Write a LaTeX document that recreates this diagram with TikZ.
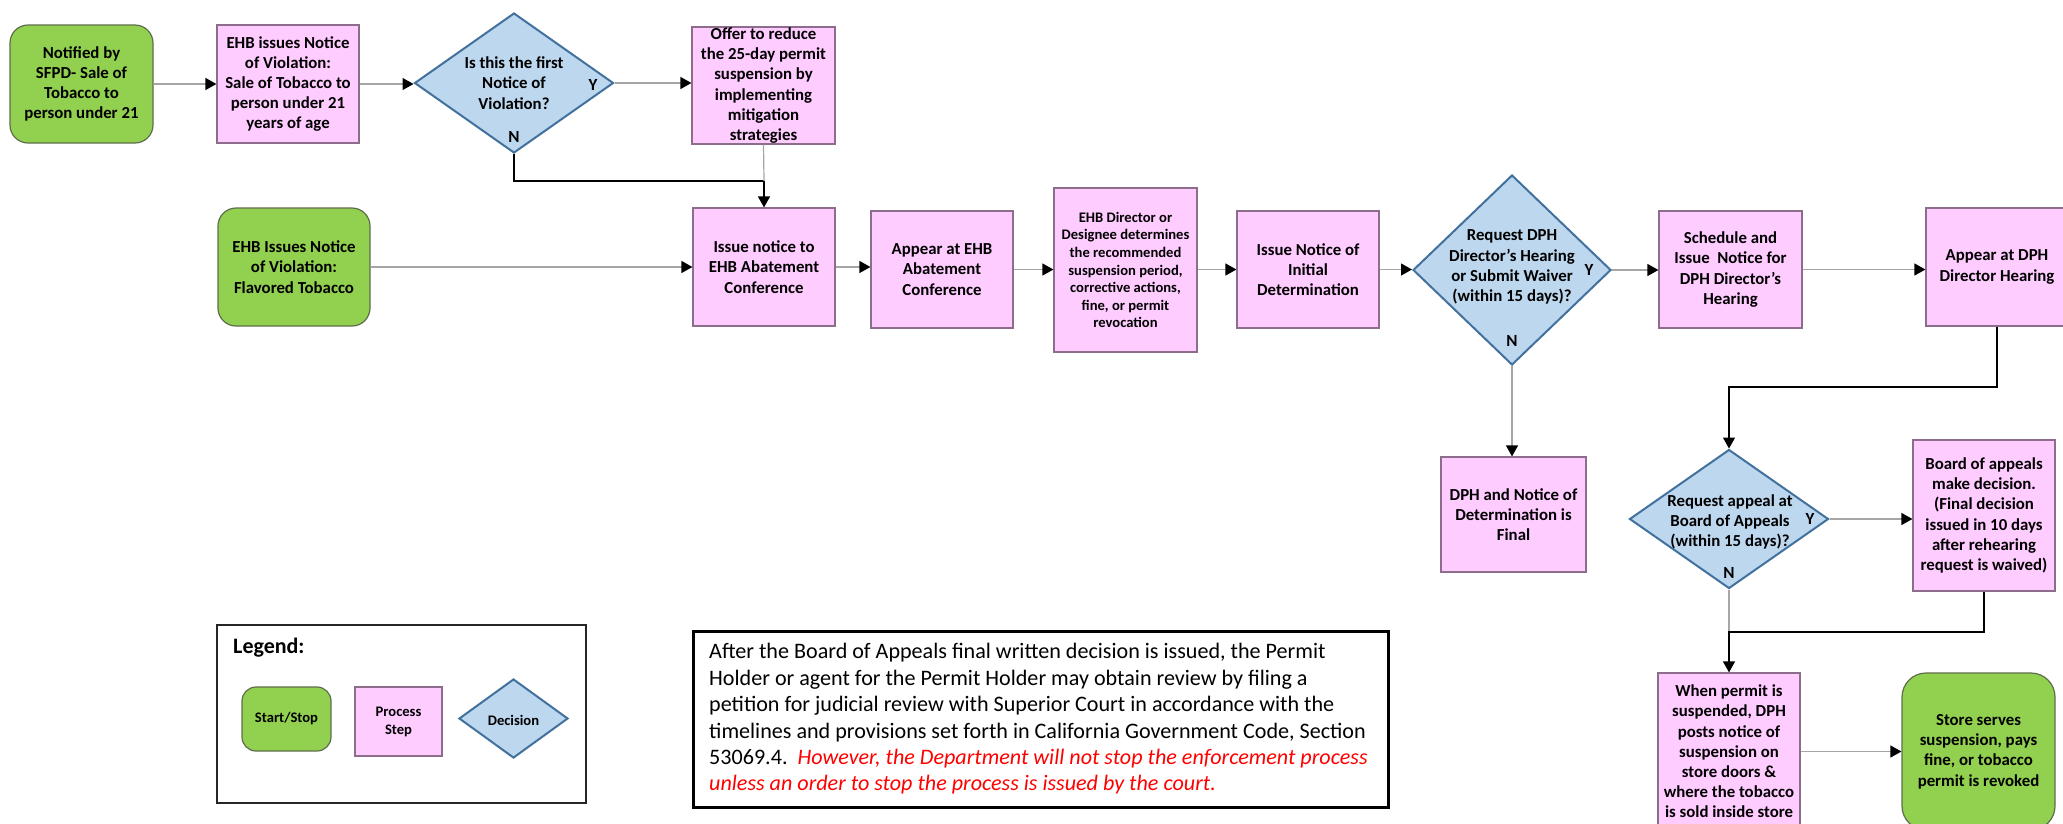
\documentclass[tikz,border=0pt]{standalone}
\usepackage{fontspec}
\setmainfont{Carlito}
\usetikzlibrary{arrows.meta,shapes.geometric}
\definecolor{startgreen}{HTML}{92D050}
\definecolor{greenborder}{HTML}{5E6E4A}
\definecolor{procpink}{HTML}{FFCCFF}
\definecolor{pinkborder}{HTML}{8C6E8C}
\definecolor{decblue}{HTML}{BDD7EE}
\definecolor{decborder}{HTML}{41719C}
\definecolor{linegray}{HTML}{A6A6A6}
\newcommand{\boxfont}{\bfseries\fontsize{16.8}{20.2}\selectfont}
\newcommand{\smallboxfont}{\bfseries\fontsize{14.6}{17.6}\selectfont}
\newcommand{\legfont}{\bfseries\fontsize{14.6}{18}\selectfont}
\newcommand{\notefont}{\fontsize{22.1}{26.4}\selectfont}
\begin{document}
\begin{tikzpicture}[x=1pt,y=-1pt,
  proc/.style={draw=pinkborder, fill=procpink, line width=1.2pt, align=center, inner sep=0pt, font=\boxfont},
  startstop/.style={draw=greenborder, fill=startgreen, line width=1.2pt, rounded corners=18pt, align=center, inner sep=0pt, font=\boxfont},
  decshape/.style={diamond, draw=decborder, fill=decblue, line width=2pt, inner sep=0pt},
  dectext/.style={align=center, inner sep=0pt, font=\boxfont},
  yn/.style={inner sep=0pt, font=\bfseries\fontsize{17}{20}\selectfont},
  conn/.style={draw=linegray, line width=1.2pt, -{Triangle[length=11pt,width=12pt,color=black]}},
  blkconn/.style={draw=black, line width=1.3pt, -{Triangle[length=11pt,width=12pt,color=black]}},
  grayline/.style={draw=linegray, line width=1.2pt},
  blkline/.style={draw=black, line width=1.3pt}
]
\fill[white] (0,0) rectangle (2063,823);
\useasboundingbox (0,0) rectangle (2063,823);

% Row 1
\node[startstop, minimum width=143pt, minimum height=118pt] (start1) at (81.5,84) {Notified by\\SFPD- Sale of\\Tobacco to\\person under 21};
\node[proc, minimum width=142pt, minimum height=118pt] (box1) at (288,84) {EHB issues Notice\\of Violation:\\Sale of Tobacco to\\person under 21\\years of age};
\node[decshape, minimum width=199pt, minimum height=140pt] (dec1) at (514,83) {};
\node[dectext] (dec1t) at (514,83) {Is this the first\\Notice of\\Violation?};
\node[yn] (dec1y) at (593,85) {Y};
\node[yn] (dec1n) at (514,137) {N};
\node[proc, minimum width=143pt, minimum height=117pt] (offer) at (763.5,85.5) {Offer to reduce\\the 25-day permit\\suspension by\\implementing\\mitigation\\strategies};

% Row 2
\node[startstop, minimum width=152pt, minimum height=118pt] (start2) at (294,267) {EHB Issues Notice\\of Violation:\\Flavored Tobacco};
\node[proc, minimum width=142pt, minimum height=118pt] (issue) at (764,267) {Issue notice to\\EHB Abatement\\Conference};
\node[proc, minimum width=142pt, minimum height=117pt] (appear) at (942,269.5) {Appear at EHB\\Abatement\\Conference};
\node[proc, minimum width=143pt, minimum height=164pt, font=\smallboxfont] (director) at (1125.5,270) {EHB Director or\\Designee determines\\the recommended\\suspension period,\\corrective actions,\\fine, or permit\\revocation};
\node[proc, minimum width=142pt, minimum height=117pt] (initial) at (1308,269.5) {Issue Notice of\\Initial\\Determination};
\node[decshape, minimum width=198pt, minimum height=190pt] (dec2) at (1512,270) {};
\node[dectext] (dec2t) at (1512,267) {Request DPH\\Director’s Hearing\\or Submit Waiver\\(within 15 days)?};
\node[yn] (dec2y) at (1589,270) {Y};
\node[yn] (dec2n) at (1512,341) {N};
\node[proc, minimum width=143pt, minimum height=117pt] (schedule) at (1730.5,269.5) {Schedule and\\Issue\ \ Notice for\\DPH Director’s\\Hearing};
\node[proc, minimum width=142pt, minimum height=118pt] (appeardph) at (1997,267) {Appear at DPH\\Director Hearing};

% Row 3
\node[proc, minimum width=145pt, minimum height=115pt] (final) at (1513.5,514.5) {DPH and Notice of\\Determination is\\Final};
\node[decshape, minimum width=199pt, minimum height=139pt] (dec3) at (1729,519) {};
\node[dectext] (dec3t) at (1730,522) {Request appeal at\\Board of Appeals\\(within 15 days)?};
\node[yn] (dec3y) at (1810,519) {Y};
\node[yn] (dec3n) at (1729,573) {N};
\node[proc, minimum width=142pt, minimum height=151pt] (board) at (1984,515.5) {Board of appeals\\make decision.\\(Final decision\\issued in 10 days\\after rehearing\\request is waived)};

% Row 4
\node[proc, minimum width=142pt, minimum height=157pt] (when) at (1729,751.5) {When permit is\\suspended, DPH\\posts notice of\\suspension on\\store doors \&\\where the tobacco\\is sold inside store};
\node[startstop, minimum width=153pt, minimum height=157pt, rounded corners=24pt] (store) at (1978.5,751.5) {Store serves\\suspension, pays\\fine, or tobacco\\permit is revoked};

% Junction coordinates
\coordinate (j1) at (764,181);
\coordinate (j2) at (1729,387);
\coordinate (j3) at (1729,632);

% Connectors
\draw[conn] (start1) -- (box1);
\draw[conn] (box1.east) -- (box1.east -| dec1.west);
\draw[conn] (dec1.east) -- (dec1.east -| offer.west);
\draw[blkline] (dec1.south) |- (j1);
\draw[grayline] (offer.south) -- (j1);
\draw[blkconn] (j1) -- (issue.north);
\draw[conn] (start2) -- (issue);
\draw[conn] (issue.east) -- (issue.east -| appear.west);
\draw[conn] (appear.east) -- (appear.east -| director.west);
\draw[conn] (director.east |- initial) -- (initial.west);
\draw[conn] (initial.east) -- (initial.east -| dec2.west);
\draw[conn] (dec2.east) -- (dec2.east -| schedule.west);
\draw[conn] (schedule.east) -- (schedule.east -| appeardph.west);
\draw[conn] (dec2.south) -- (dec2.south |- final.north);
\draw[blkconn] (appeardph.south) |- (j2) -- (dec3.north);
\draw[conn] (dec3.east) -- (dec3.east -| board.west);
\draw[grayline] (dec3.south) -- (j3);
\draw[blkconn] (board.south) |- (j3) -- (when.north);
\draw[conn] (when) -- (store);

% Legend
\node[draw=black!85, line width=2pt, minimum width=369pt, minimum height=178pt, inner sep=0pt] (legend) at (401.5,714) {};
\node[anchor=west, inner sep=0pt, font=\bfseries\fontsize{22}{26}\selectfont] (legendtitle) at (233,648) {Legend:};
\node[startstop, minimum width=89pt, minimum height=64pt, rounded corners=14pt, font=\legfont] (lstart) at (286.5,719) {Start/Stop};
\node[proc, minimum width=87pt, minimum height=69pt, font=\legfont] (lproc) at (398.5,721.5) {Process\\Step};
\node[decshape, minimum width=109pt, minimum height=79pt] (ldec) at (513.5,718.5) {};
\node[dectext, font=\legfont] (ldect) at (513.5,720) {Decision};

% Note
\node[draw=black, line width=3pt, minimum width=695pt, minimum height=176pt, inner sep=0pt] (note) at (1040.5,719) {};
\node[anchor=west, align=left, inner sep=0pt, font=\notefont] (notetext) at (709,719) {After the Board of Appeals final written decision is issued, the Permit\\
Holder or agent for the Permit Holder may obtain review by filing a\\
petition for judicial review with Superior Court in accordance with the\\
timelines and provisions set forth in California Government Code, Section\\
53069.4.\ \ {\color{red}\itshape However, the Department will not stop the enforcement process}\\
{\color{red}\itshape unless an order to stop the process is issued by the court.}};
\end{tikzpicture}
\end{document}
